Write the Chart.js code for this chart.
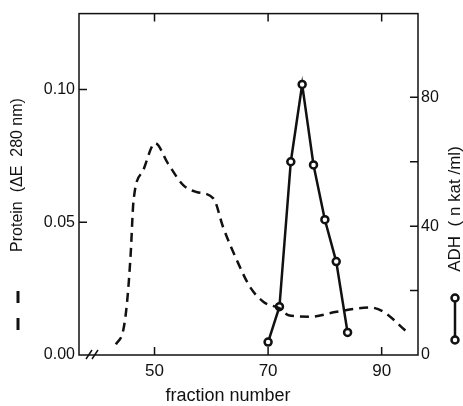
<!DOCTYPE html>
<html>
<head>
<meta charset="utf-8">
<script src="https://cdn.jsdelivr.net/npm/chart.js@4"></script>
<style>
  html, body { margin: 0; padding: 0; background: #fff; }
  canvas { display: block; }
</style>
</head>
<body>
<canvas id="chart" width="463" height="406"></canvas>
<script>
// protein elution profile (dashed)
const proteinFractions = [43.2, 44.5, 45.2, 45.8, 46.3, 48.0, 50.1, 52.4, 55.1, 57.4, 60.4, 62.1, 64.5, 66.8, 69.2, 72.1, 73.6, 77.4, 82.1, 88.0, 90.3, 94.4];
const proteinValues = [0.004, 0.0094, 0.0207, 0.038, 0.058, 0.0695, 0.0798, 0.072, 0.0639, 0.0614, 0.0589, 0.048, 0.0357, 0.0257, 0.020, 0.0175, 0.015, 0.0144, 0.0163, 0.0179, 0.0163, 0.0088];

// ADH activity (solid with open circles)
const adhFractions = [70, 72, 74, 76, 78, 80, 82, 84];
const adhValues = [4, 15, 60, 84, 59, 42, 29, 7];

const xTicks = [50, 70, 90];
const proteinTicks = [0, 0.05, 0.10];
const adhTicks = [0, 20, 40, 60, 80];
const adhLabelled = [0, 40, 80];

const ink = '#111';
const font = 'Liberation Sans, Arial, sans-serif';

const toPoints = (xs, ys) => xs.map((x, i) => ({ x, y: ys[i] }));

// frame, inward ticks, axis break and axis titles
const decorations = {
  id: 'decorations',
  afterDraw(chart) {
    const { ctx, chartArea: a, scales } = chart;
    ctx.save();
    ctx.strokeStyle = ink;
    ctx.fillStyle = ink;
    ctx.lineWidth = 1.5;
    ctx.strokeRect(a.left, a.top, a.right - a.left, a.bottom - a.top);

    ctx.beginPath();
    xTicks.forEach(v => {
      const px = scales.x.getPixelForValue(v);
      ctx.moveTo(px, a.bottom); ctx.lineTo(px, a.bottom - 8);
      ctx.moveTo(px, a.top); ctx.lineTo(px, a.top + 8);
    });
    proteinTicks.slice(1).forEach(v => {
      const py = scales.y.getPixelForValue(v);
      ctx.moveTo(a.left, py); ctx.lineTo(a.left + 8, py);
    });
    adhTicks.slice(1).forEach(v => {
      const py = scales.y2.getPixelForValue(v);
      ctx.moveTo(a.right, py); ctx.lineTo(a.right - 8, py);
    });
    ctx.stroke();

    // axis break
    ctx.lineWidth = 1.5;
    ctx.beginPath();
    [86, 92].forEach(x0 => { ctx.moveTo(x0, a.bottom + 4); ctx.lineTo(x0 + 6, a.bottom - 5); });
    ctx.stroke();

    // x title
    ctx.font = '18px ' + font;
    ctx.textAlign = 'center';
    ctx.textBaseline = 'middle';
    ctx.fillText('fraction number', 228, 396);

    // left title with dashed-line key
    ctx.save();
    ctx.translate(18, 175);
    ctx.rotate(-Math.PI / 2);
    ctx.font = '16px ' + font;
    ctx.fillText('Protein  (\u0394E  280 nm)', 0, 0);
    ctx.restore();
    ctx.lineWidth = 3;
    ctx.beginPath();
    ctx.moveTo(18, 291); ctx.lineTo(18, 303);
    ctx.moveTo(18, 318); ctx.lineTo(18, 330);
    ctx.stroke();

    // right title with circle-line key
    ctx.save();
    ctx.translate(455, 209);
    ctx.rotate(-Math.PI / 2);
    ctx.font = '17px ' + font;
    ctx.fillText('ADH  ( n kat /ml)', 0, 0);
    ctx.restore();
    ctx.lineWidth = 2.5;
    ctx.beginPath();
    ctx.moveTo(455, 298); ctx.lineTo(455, 340);
    ctx.stroke();
    [298, 340].forEach(cy => {
      ctx.beginPath();
      ctx.arc(455, cy, 3.5, 0, Math.PI * 2);
      ctx.fillStyle = '#fff';
      ctx.fill();
      ctx.stroke();
    });
    ctx.restore();
  }
};

new Chart(document.getElementById('chart'), {
  type: 'line',
  data: {
    datasets: [
      {
        label: 'Protein',
        data: toPoints(proteinFractions, proteinValues),
        yAxisID: 'y',
        borderColor: ink,
        borderWidth: 2.5,
        borderDash: [9, 6],
        pointRadius: 0,
        cubicInterpolationMode: 'monotone',
        fill: false
      },
      {
        label: 'ADH',
        data: toPoints(adhFractions, adhValues),
        yAxisID: 'y2',
        borderColor: ink,
        borderWidth: 2.5,
        tension: 0,
        pointRadius: 3.5,
        pointBorderWidth: 2.5,
        pointBackgroundColor: '#fff',
        pointBorderColor: ink,
        fill: false
      }
    ]
  },
  options: {
    responsive: false,
    animation: false,
    devicePixelRatio: 1,
    layout: { padding: { top: 13, left: 0, right: 0, bottom: 0 } },
    plugins: { legend: { display: false }, tooltip: { enabled: false } },
    scales: {
      x: {
        type: 'linear',
        min: 36.7,
        max: 96.4,
        afterBuildTicks: s => { s.ticks = xTicks.map(v => ({ value: v })); },
        afterFit: s => { s.height = 51; },
        grid: { display: false, drawTicks: false },
        border: { display: false },
        ticks: { color: ink, padding: 6, font: { family: font, size: 17 }, maxRotation: 0 }
      },
      y: {
        position: 'left',
        min: 0,
        max: 0.1286,
        afterBuildTicks: s => { s.ticks = proteinTicks.map(v => ({ value: v })); },
        afterFit: s => { s.width = 79; },
        grid: { display: false, drawTicks: false },
        border: { display: false },
        ticks: { color: ink, padding: 4, font: { family: font, size: 16 }, callback: v => v.toFixed(2) }
      },
      y2: {
        position: 'right',
        min: 0,
        max: 106,
        afterBuildTicks: s => { s.ticks = adhTicks.map(v => ({ value: v })); },
        afterFit: s => { s.width = 45; },
        grid: { display: false, drawTicks: false },
        border: { display: false },
        ticks: { color: ink, padding: 3, font: { family: font, size: 16 }, callback: v => adhLabelled.includes(v) ? String(v) : '' }
      }
    }
  },
  plugins: [decorations]
});
</script>
</body>
</html>
